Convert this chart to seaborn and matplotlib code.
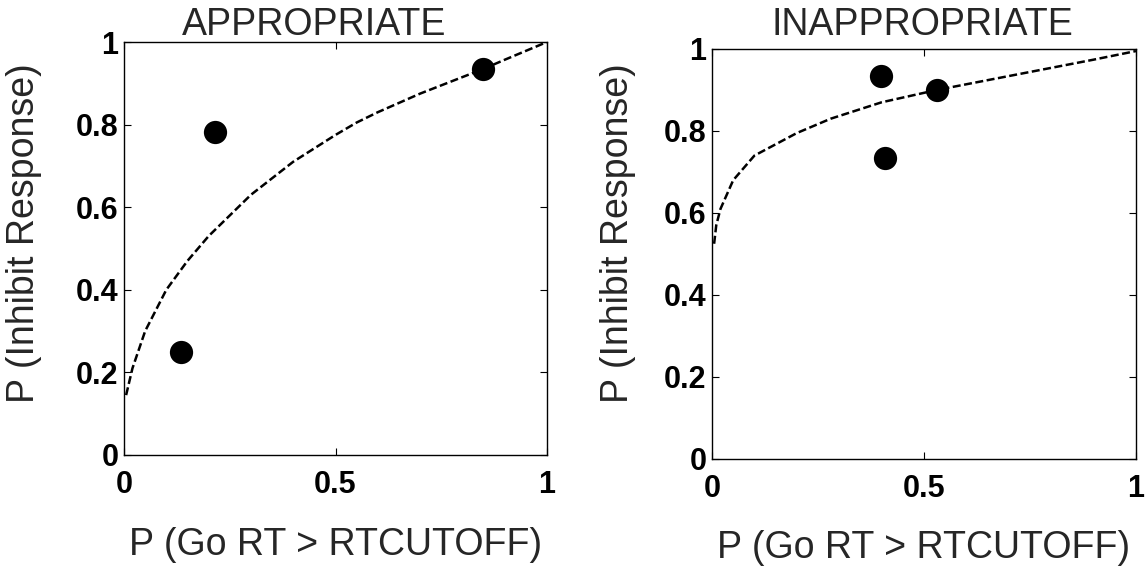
import numpy as np
import pandas as pd
import matplotlib
matplotlib.use("Agg")
import matplotlib.pyplot as plt
import seaborn as sns

# puntos observados
apr_x = [0.135, 0.215, 0.848]
apr_y = [0.250, 0.782, 0.935]
inapr_x = [0.398, 0.408, 0.531]
inapr_y = [0.934, 0.734, 0.900]

# curvas del modelo
apr_curva_x = [0.005, 0.02, 0.05, 0.10, 0.15, 0.20, 0.30, 0.40, 0.50, 0.55, 0.60, 0.70, 0.80, 0.85, 0.90, 1.00]
apr_curva_y = [0.145, 0.21, 0.30, 0.40, 0.47, 0.53, 0.63, 0.71, 0.775, 0.805, 0.83, 0.875, 0.915, 0.935, 0.957, 1.00]
inapr_curva_x = [0.005, 0.01, 0.02, 0.05, 0.10, 0.20, 0.28, 0.40, 0.53, 0.60, 0.70, 0.80, 0.90, 1.00]
inapr_curva_y = [0.525, 0.57, 0.61, 0.68, 0.74, 0.795, 0.83, 0.87, 0.90, 0.914, 0.934, 0.954, 0.974, 0.995]

titulos = ["APPROPRIATE", "INAPPROPRIATE"]
eje_x = "P (Go RT > RTCUTOFF)"
eje_y = "P (Inhibit Response)"
ticks_x = [0, 0.5, 1]
etiquetas_x = ["0", "0.5", "1"]
ticks_y = [0, 0.2, 0.4, 0.6, 0.8, 1]
etiquetas_y = ["0", "0.2", "0.4", "0.6", "0.8", "1"]

sns.set_style("white")
plt.rcParams['font.family'] = ['Liberation Sans', 'DejaVu Sans']

fig = plt.figure(figsize=(11.45, 5.67), dpi=100)
W, H = 1145, 567
ax1 = fig.add_axes([124 / W, (H - 455) / H, 423 / W, 413 / H])
ax2 = fig.add_axes([712 / W, (H - 459) / H, 424 / W, 410 / H])

datos = [
    (ax1, apr_x, apr_y, apr_curva_x, apr_curva_y, 0.449, 5, -0.193, 0.537),
    (ax2, inapr_x, inapr_y, inapr_curva_x, inapr_curva_y, 0.495, 10, -0.18, 0.55),
]

for i, (ax, px, py, cx, cy, tx, tpad, ylx, yly) in enumerate(datos):
    curva = pd.DataFrame({"x": cx, "y": cy})
    puntos = pd.DataFrame({"x": px, "y": py})
    sns.lineplot(data=curva, x="x", y="y", ax=ax, color="black", linewidth=1.8,
                 linestyle=(0, (3.2, 1.4)), sort=True, estimator=None)
    sns.scatterplot(data=puntos, x="x", y="y", ax=ax, color="black", s=280,
                    edgecolor="black", linewidth=0, zorder=3)
    ax.set_xlim(0, 1)
    ax.set_ylim(0, 1)
    ax.set_xticks(ticks_x)
    ax.set_xticklabels(etiquetas_x)
    ax.set_yticks(ticks_y)
    ax.set_yticklabels(etiquetas_y)
    ax.tick_params(axis="x", direction="in", length=5, width=0.8, top=True, bottom=True,
                   labelsize=22, pad=11, colors="black")
    ax.tick_params(axis="y", direction="in", length=5, width=0.8, left=True, right=True,
                   labelsize=22, pad=4, colors="black")
    for lab in ax.get_xticklabels() + ax.get_yticklabels():
        lab.set_fontweight("bold")
    for sp in ax.spines.values():
        sp.set_visible(True)
        sp.set_color("black")
        sp.set_linewidth(1.0)
    ax.set_title(titulos[i], fontsize=27, x=tx, pad=tpad)
    ax.set_xlabel(eje_x, fontsize=27)
    ax.set_ylabel(eje_y, fontsize=27)
    ax.xaxis.set_label_coords(0.5, -0.174)
    ax.yaxis.set_label_coords(ylx, yly)

fig.savefig("out.png", dpi=100)
